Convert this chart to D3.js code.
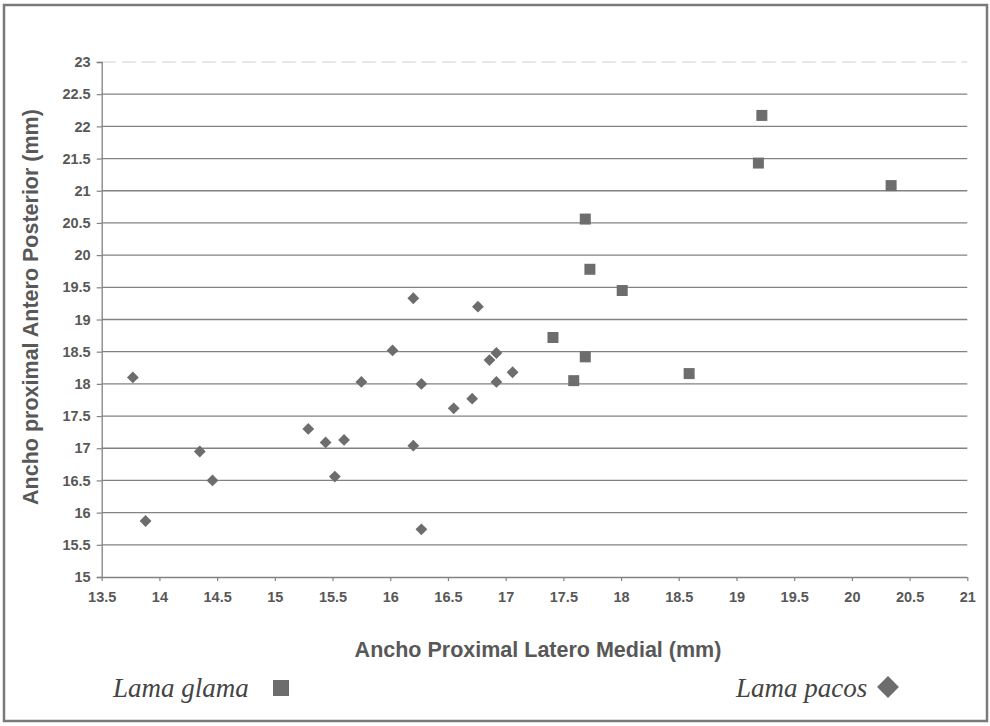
<!DOCTYPE html>
<html><head><meta charset="utf-8">
<script src="https://cdn.jsdelivr.net/npm/d3@7"></script>
<style>body{margin:0;background:#fff;} svg{display:block;}</style>
</head><body>
<svg id="c" width="990" height="726"></svg>
<script>
// Data
const glamaX = [19.22, 19.19, 20.34, 17.69, 17.73, 18.01, 17.41, 17.69, 17.59, 18.59];
const glamaY = [22.17, 21.43, 21.08, 20.56, 19.78, 19.45, 18.72, 18.42, 18.05, 18.16];
const pacosX = [13.77, 13.88, 14.35, 14.46, 15.29, 15.44, 15.60, 15.52, 15.75, 16.20, 16.76, 16.02, 16.92, 16.86, 17.06, 16.27, 16.92, 16.71, 16.55, 16.20, 16.27];
const pacosY = [18.10, 15.87, 16.95, 16.50, 17.30, 17.09, 17.13, 16.56, 18.03, 19.33, 19.20, 18.52, 18.48, 18.37, 18.18, 18.00, 18.03, 17.77, 17.62, 17.04, 15.74];
const xTicks = [13.5,14,14.5,15,15.5,16,16.5,17,17.5,18,18.5,19,19.5,20,20.5,21];
const yTicks = [15,15.5,16,16.5,17,17.5,18,18.5,19,19.5,20,20.5,21,21.5,22,22.5,23];
const xTitle = "Ancho Proximal Latero Medial (mm)";
const yTitle = "Ancho proximal Antero Posterior (mm)";
const legendNames = ["Lama glama", "Lama pacos"];

const svg = d3.select("#c");
const L = 101.7, R = 967.3, T = 62, B = 577;
const x = d3.scaleLinear().domain([13.5, 21]).range([L, R]);
const y = d3.scaleLinear().domain([15, 23]).range([B, T]);
const gray = "#828282", markCol = "#6d6d6d", textCol = "#585858";
const sans = "'Liberation Sans', Arial, sans-serif";

// frame
svg.append("rect").attr("x", 4).attr("y", 5).attr("width", 983).attr("height", 716)
  .attr("fill", "none").attr("stroke", "#7a7a7a").attr("stroke-width", 2.5);

// gridlines
svg.append("g").selectAll("line").data(yTicks.filter(d => d > 15)).join("line")
  .attr("x1", L).attr("x2", R).attr("y1", d => y(d)).attr("y2", d => y(d))
  .attr("stroke", d => d === 23 ? "#d0d0d0" : gray)
  .attr("stroke-width", d => d === 23 ? 1 : 1.3)
  .attr("stroke-dasharray", d => d === 23 ? "14,6" : null);

// axes
const xAxis = d3.axisBottom(x).tickValues(xTicks).tickSize(4).tickPadding(11).tickFormat(d3.format("~g"));
const yAxis = d3.axisLeft(y).tickValues(yTicks).tickSize(5).tickPadding(6).tickFormat(d3.format("~g"));
const gx = svg.append("g").attr("transform", `translate(0,${B})`).call(xAxis);
const gy = svg.append("g").attr("transform", `translate(${L},0)`).call(yAxis);
[gx, gy].forEach(g => {
  g.select(".domain").attr("stroke", gray).attr("stroke-width", 1.3);
  g.selectAll(".tick line").attr("stroke", gray).attr("stroke-width", 1.2);
  g.selectAll(".tick text").attr("fill", textCol)
    .style("font-family", sans).style("font-size", "14.5px").style("font-weight", "bold");
});
gx.select(".domain").attr("d", `M${L},0.5H${R}`);

// titles
svg.append("text").attr("x", 538).attr("y", 657).attr("text-anchor", "middle")
  .attr("fill", textCol).style("font-family", sans)
  .style("font-size", "21.5px").style("font-weight", "bold").text(xTitle);
svg.append("text").attr("transform", "translate(38,307) rotate(-90)").attr("text-anchor", "middle")
  .attr("fill", textCol).style("font-family", sans)
  .style("font-size", "21.5px").style("font-weight", "bold").text(yTitle);

// marks
const sq = d3.symbol().type(d3.symbolSquare).size(121);
const dm = d3.symbol().type(d3.symbolSquare).size(70);
svg.append("g").selectAll("path").data(glamaX.map((v, i) => [v, glamaY[i]])).join("path")
  .attr("d", sq).attr("fill", markCol)
  .attr("transform", d => `translate(${x(d[0])},${y(d[1])})`);
svg.append("g").selectAll("path").data(pacosX.map((v, i) => [v, pacosY[i]])).join("path")
  .attr("d", dm).attr("fill", markCol)
  .attr("transform", d => `translate(${x(d[0])},${y(d[1])}) rotate(45)`);

// legend
const lf = "'Liberation Serif', 'Times New Roman', serif";
svg.append("text").attr("x", 113).attr("y", 697).attr("fill", "#444")
  .style("font-family", lf).style("font-style", "italic").style("font-size", "27px").text(legendNames[0]);
svg.append("rect").attr("x", 273).attr("y", 680).attr("width", 16).attr("height", 16).attr("fill", markCol);
svg.append("text").attr("x", 736).attr("y", 697).attr("fill", "#444")
  .style("font-family", lf).style("font-style", "italic").style("font-size", "27px").text(legendNames[1]);
svg.append("path").attr("d", d3.symbol().type(d3.symbolSquare).size(240)())
  .attr("fill", markCol).attr("transform", "translate(888,687) rotate(45)");
</script>
</body></html>
